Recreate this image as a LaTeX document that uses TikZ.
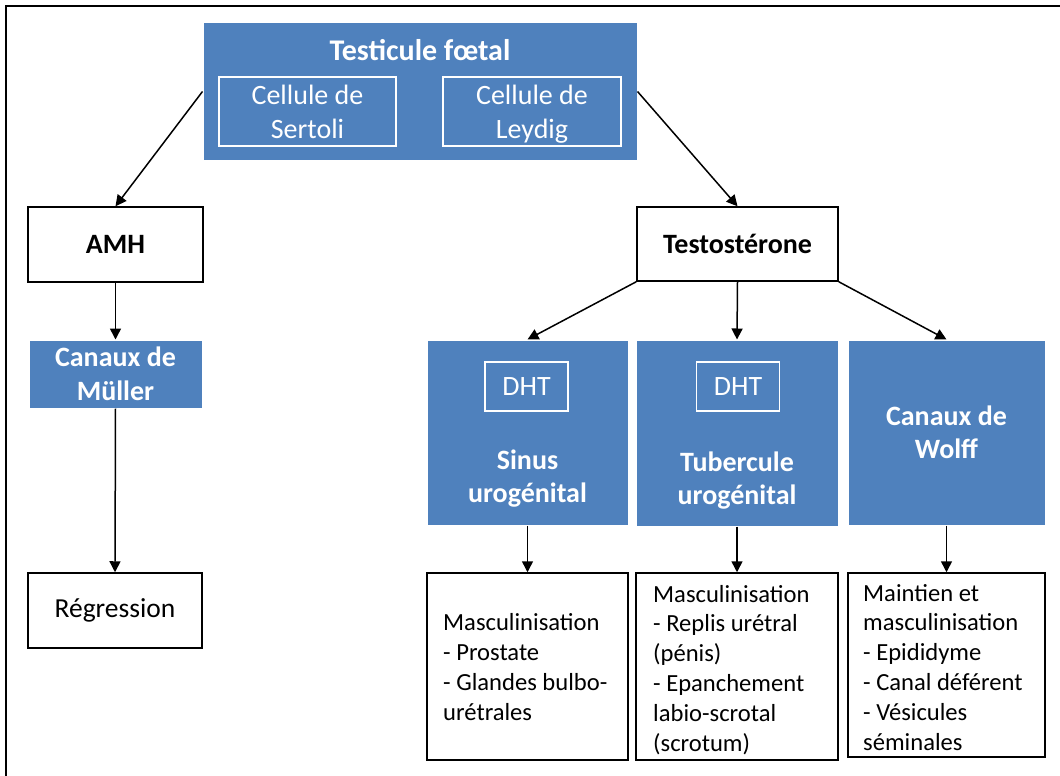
\documentclass[tikz,border=0pt]{standalone}
\usepackage{fontspec}
\setmainfont{Carlito}
\usetikzlibrary{arrows.meta}
\definecolor{obl}{HTML}{4F81BD}
\newcommand\mystr{\rule[-0.2em]{0pt}{1.1em}}
\begin{document}
\begin{tikzpicture}[x=1pt,y=-1pt,
  bluebox/.style={fill=obl,draw=white,line width=1pt,inner sep=0pt},
  whitebox/.style={draw=black,line width=1.5pt,fill=white,inner sep=0pt,align=center},
  innerbox/.style={draw=white,line width=1.5pt,inner sep=0pt,text=white,align=center,font=\fontsize{28}{34}\selectfont},
  ttl/.style={text=white,align=center,font=\fontsize{28}{33}\selectfont\bfseries,inner sep=0pt},
  listbox/.style={draw=black,line width=1.5pt,fill=white,inner sep=0pt},
  listtext/.style={anchor=west,inner sep=0pt,align=left,font=\fontsize{24.6}{29.8}\selectfont},
  arr/.style={line width=1.5pt,-{Triangle[length=11pt,width=11pt]}}]
\useasboundingbox (0,0) rectangle (1060,776);
\draw[line width=2.5pt] (6,776) -- (6,6) -- (1060,6);

% top box
\node[bluebox,minimum width=434pt,minimum height=137pt] (tf) at (420,91.5) {};
\node[ttl,font=\fontsize{30}{34}\selectfont\bfseries] (tft) at (420,50) {Testicule fœtal};
\node[innerbox,minimum width=177pt,minimum height=69pt] (sert) at (307.5,111.5) {\mystr Cellule de\\Sertoli\mystr};
\node[innerbox,minimum width=178pt,minimum height=69pt] (leyd) at (532,111.5) {\mystr Cellule de\\Leydig\mystr};

% left branch
\node[whitebox,minimum width=175pt,minimum height=75pt,font=\fontsize{28}{34}\selectfont\bfseries] (amh) at (115.5,244.5) {AMH};
\node[bluebox,minimum width=173pt,minimum height=68pt,text=white,align=center,font=\fontsize{28}{34}\selectfont\bfseries] (mul) at (115.5,374) {\mystr Canaux de\\Müller\mystr};
\node[whitebox,minimum width=174pt,minimum height=75pt,font=\fontsize{27.5}{33}\selectfont] (reg) at (115,610.5) {Régression};

% right branch
\node[whitebox,minimum width=201pt,minimum height=74pt,font=\fontsize{28}{34}\selectfont\bfseries] (tes) at (737.5,244) {Testostérone};

\node[bluebox,minimum width=201pt,minimum height=185pt] (sin) at (527.5,432.5) {};
\node[innerbox,minimum width=83pt,minimum height=49pt] (dht1) at (526.5,386.5) {DHT};
\node[ttl] (sint) at (527.5,476.5) {\mystr Sinus\\urogénital\mystr};

\node[bluebox,minimum width=202pt,minimum height=186pt] (tub) at (737,433) {};
\node[innerbox,minimum width=83pt,minimum height=49pt] (dht2) at (738,386.5) {DHT};
\node[ttl] (tubt) at (737,478) {\mystr Tubercule\\urogénital\mystr};

\node[bluebox,minimum width=197pt,minimum height=185pt,text=white,align=center,font=\fontsize{28}{33}\selectfont\bfseries] (wol) at (946.5,432.5) {\mystr Canaux de\\Wolff\mystr};

\node[listbox,minimum width=201pt,minimum height=187pt] (b1) at (527.5,666.5) {};
\node[listtext] (b1t) at (443,667) {\mystr Masculinisation\\- Prostate\\- Glandes bulbo-\\urétrales\mystr};
\node[listbox,minimum width=202pt,minimum height=187pt] (b2) at (737,666.5) {};
\node[listtext] (b2t) at (653,668) {\mystr Masculinisation\\- Replis urétral\\(pénis)\\- Epanchement\\labio-scrotal\\(scrotum)\mystr};
\node[listbox,minimum width=197pt,minimum height=184pt] (b3) at (946.5,665) {};
\node[listtext] (b3t) at (863,667) {\mystr Maintien et\\masculinisation\\- Epididyme\\- Canal déférent\\- Vésicules\\séminales\mystr};

% connectors
\draw[arr] (tf.west) -- (amh.north);
\draw[arr] (tf.east) -- (tes.north);
\draw[arr] (amh.south) -- (mul.north);
\draw[arr] (mul.south) -- (reg.north);
\draw[arr] (tes.south west) -- (sin.north);
\draw[arr] (tes.south) -- (tub.north);
\draw[arr] (tes.south east) -- (wol.north);
\draw[arr] (sin.south) -- (b1.north);
\draw[arr] (tub.south) -- (b2.north);
\draw[arr] (wol.south) -- (b3.north);
\end{tikzpicture}
\end{document}
